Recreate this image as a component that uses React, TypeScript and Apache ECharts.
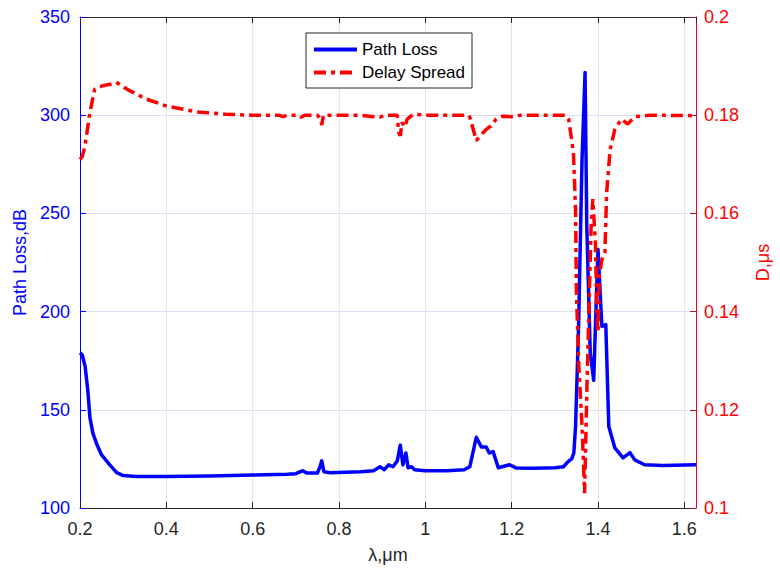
import React, { useEffect, useRef } from "react";
import * as echarts from "echarts";

const lambdaPL = [0.2, 0.205, 0.212, 0.218, 0.223, 0.23, 0.238, 0.25, 0.269, 0.285, 0.3, 0.33, 0.4, 0.5, 0.6, 0.68, 0.7, 0.716, 0.725, 0.75, 0.756, 0.76, 0.765, 0.78, 0.85, 0.88, 0.895, 0.905, 0.915, 0.925, 0.935, 0.942, 0.948, 0.955, 0.96, 0.968, 0.975, 1.0, 1.05, 1.09, 1.103, 1.11, 1.118, 1.13, 1.141, 1.148, 1.157, 1.169, 1.195, 1.21, 1.25, 1.3, 1.32, 1.33, 1.339, 1.344, 1.348, 1.355, 1.363, 1.37, 1.374, 1.382, 1.39, 1.394, 1.4, 1.405, 1.409, 1.418, 1.425, 1.439, 1.458, 1.474, 1.485, 1.508, 1.55, 1.627];
const pathLoss = [179, 178, 172, 160, 146, 138, 133, 127, 122, 118, 116.5, 116, 116, 116.3, 116.8, 117.2, 117.5, 119, 117.8, 117.8, 121, 124, 118.5, 118, 118.5, 119, 121, 119.5, 122, 121, 124, 132, 122, 128, 120.5, 121, 119.5, 119, 119, 119.5, 121, 128, 136, 131, 131, 128, 128.7, 120.5, 122, 120.4, 120.3, 120.5, 121, 123.5, 125, 128, 141.5, 192.5, 277.5, 321.8, 243.5, 179, 165, 192.5, 231.6, 209.7, 192.5, 193.4, 141.5, 130.6, 125.5, 128.2, 124.5, 122, 121.7, 122];

const lambdaDS = [0.2, 0.205, 0.2115, 0.223, 0.234, 0.253, 0.27, 0.284, 0.3, 0.315, 0.353, 0.399, 0.468, 0.537, 0.598, 0.66, 0.67, 0.68, 0.705, 0.712, 0.72, 0.75, 0.757, 0.76, 0.764, 0.85, 0.88, 0.895, 0.905, 0.935, 0.938, 0.942, 0.946, 0.953, 0.958, 0.972, 1.0, 1.1, 1.103, 1.111, 1.118, 1.13, 1.141, 1.152, 1.164, 1.179, 1.2, 1.22, 1.325, 1.332, 1.343, 1.348, 1.35, 1.355, 1.363, 1.369, 1.374, 1.38, 1.384, 1.388, 1.394, 1.397, 1.4, 1.403, 1.409, 1.416, 1.42, 1.428, 1.439, 1.454, 1.469, 1.485, 1.52, 1.627];
const delaySpread = [0.171, 0.1715, 0.1737, 0.1806, 0.1853, 0.186, 0.1863, 0.1867, 0.1858, 0.185, 0.1833, 0.1819, 0.1807, 0.1802, 0.18, 0.18, 0.1797, 0.18, 0.18, 0.1796, 0.18, 0.18, 0.1792, 0.178, 0.18, 0.18, 0.1797, 0.1796, 0.18, 0.18, 0.1765, 0.1758, 0.1785, 0.1776, 0.1792, 0.1802, 0.18, 0.18, 0.1796, 0.1771, 0.1748, 0.1761, 0.1771, 0.1778, 0.1792, 0.1798, 0.1797, 0.18, 0.18, 0.1792, 0.1724, 0.1608, 0.1439, 0.13, 0.1166, 0.103, 0.1235, 0.1439, 0.1574, 0.1629, 0.154, 0.1404, 0.1357, 0.1472, 0.1506, 0.152, 0.1642, 0.173, 0.1771, 0.1792, 0.1782, 0.1797, 0.18, 0.1799];

const xMin = 0.2;
const xMax = 1.627;
const xLabels = ["0.2", "0.4", "0.6", "0.8", "1", "1.2", "1.4", "1.6"];
const leftTicks = [100, 150, 200, 250, 300, 350];
const rightTicks = ["0.1", "0.12", "0.14", "0.16", "0.18", "0.2"];

const FONT = "'Liberation Sans', Arial, Helvetica, sans-serif";
const BLUE = "#0000ff";
const RED = "#ff0000";

export default function App() {
  const ref = useRef<HTMLDivElement>(null);
  useEffect(() => {
    if (!ref.current) return;
    const chart = echarts.init(ref.current, null, { renderer: "svg" });
    const xFmt = (v: number) => {
      const k = Math.round((v - xMin) / 0.2);
      if (Math.abs(v - (xMin + k * 0.2)) > 1e-6) return "";
      return xLabels[k] ?? "";
    };
    chart.setOption({
      animation: false,
      backgroundColor: "#ffffff",
      textStyle: { fontFamily: FONT },
      grid: { left: 80, right: 78, top: 17, bottom: 61, containLabel: false },
      legend: {
        orient: "vertical",
        left: 306,
        top: 33,
        backgroundColor: "#ffffff",
        borderColor: "#262626",
        borderWidth: 1,
        borderRadius: 0,
        padding: [8, 7, 7, 6],
        itemGap: 6,
        itemWidth: 43,
        itemHeight: 14,
        itemStyle: { opacity: 0 },
        lineStyle: { width: 4 },
        textStyle: { fontSize: 17, color: "#000", fontFamily: FONT, padding: [0, 0, 0, 0] },
        data: ["Path Loss", "Delay Spread"],
      },
      xAxis: [
        {
          type: "value",
          min: xMin,
          max: xMax,
          interval: 0.2,
          name: "λ,μm",
          nameLocation: "middle",
          nameGap: 38,
          nameTextStyle: { fontSize: 18, color: "#262626", fontFamily: FONT },
          axisLine: { show: true, lineStyle: { color: "#262626", width: 1 } },
          axisTick: { show: true, inside: true, length: 6, lineStyle: { color: "#262626" } },
          axisLabel: { fontSize: 18, color: "#262626", margin: 12, fontFamily: FONT, formatter: xFmt, showMaxLabel: false },
          splitLine: { show: true, lineStyle: { color: "#e6e6e6", width: 1 } },
        },
        {
          type: "value",
          position: "top",
          min: xMin,
          max: xMax,
          interval: 0.2,
          axisLine: { show: true, lineStyle: { color: "#262626", width: 1 } },
          axisTick: { show: true, inside: true, length: 6, lineStyle: { color: "#262626" } },
          axisLabel: { show: false },
          splitLine: { show: false },
        },
      ],
      yAxis: [
        {
          type: "value",
          min: leftTicks[0],
          max: leftTicks[leftTicks.length - 1],
          interval: 50,
          position: "left",
          name: "Path Loss,dB",
          nameLocation: "middle",
          nameGap: 50,
          nameRotate: 90,
          nameTextStyle: { fontSize: 18, color: BLUE, fontFamily: FONT },
          axisLine: { show: true, lineStyle: { color: BLUE, width: 1 } },
          axisTick: { show: true, inside: true, length: 6, lineStyle: { color: BLUE } },
          axisLabel: { fontSize: 18, color: BLUE, margin: 10, fontFamily: FONT },
          splitLine: { show: true, lineStyle: { color: "#dcdcf4", width: 1 } },
        },
        {
          type: "value",
          min: 0.1,
          max: 0.2,
          interval: 0.02,
          position: "right",
          name: "D,μs",
          nameLocation: "middle",
          nameGap: 58,
          nameRotate: 90,
          nameTextStyle: { fontSize: 18, color: RED, fontFamily: FONT },
          axisLine: { show: true, lineStyle: { color: "#e0102a", width: 1 } },
          axisTick: { show: true, inside: true, length: 6, lineStyle: { color: "#b0103a" } },
          axisLabel: {
            fontSize: 18,
            color: RED,
            margin: 8,
            fontFamily: FONT,
            formatter: (v: number) => {
              const k = Math.round((v - 0.1) / 0.02);
              return rightTicks[k] ?? "";
            },
          },
          splitLine: { show: false },
        },
      ],
      series: [
        {
          name: "Path Loss",
          type: "line",
          xAxisIndex: 0,
          yAxisIndex: 0,
          symbol: "none",
          smooth: false,
          data: lambdaPL.map((x, i) => [x, pathLoss[i]]),
          lineStyle: { color: BLUE, width: 3.5, join: "round" },
          itemStyle: { color: BLUE },
          z: 3,
        },
        {
          name: "Delay Spread",
          type: "line",
          xAxisIndex: 0,
          yAxisIndex: 1,
          symbol: "none",
          smooth: false,
          data: lambdaDS.map((x, i) => [x, delaySpread[i]]),
          lineStyle: { color: RED, width: 3.5, type: [12, 5, 4, 5] },
          itemStyle: { color: RED },
          z: 4,
        },
      ],
    });
    return () => chart.dispose();
  }, []);
  return <div ref={ref} style={{ position: "absolute", left: 0, top: 0, width: 780, height: 569 }} />;
}
